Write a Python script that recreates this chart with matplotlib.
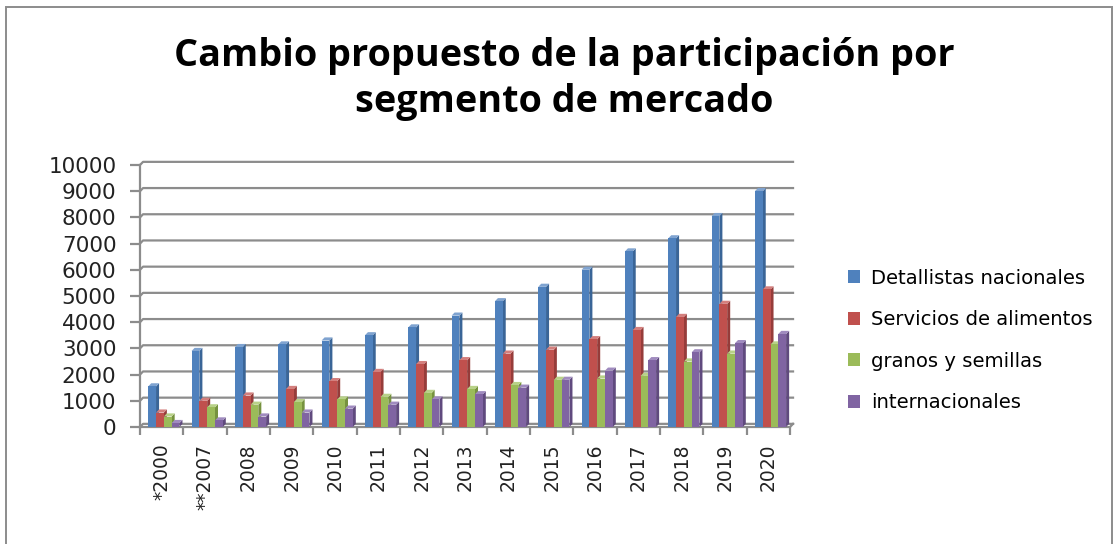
import matplotlib
matplotlib.use("Agg")
import matplotlib.pyplot as plt
from matplotlib.patches import Polygon, Rectangle

# --- datos ---
years = ["*2000", "**2007", "2008", "2009", "2010", "2011", "2012", "2013",
         "2014", "2015", "2016", "2017", "2018", "2019", "2020"]
detallistas = [1550, 2900, 3050, 3150, 3300, 3500, 3800, 4250, 4800, 5350, 6000, 6700, 7200, 8050, 9000]
servicios = [550, 1000, 1200, 1450, 1750, 2100, 2400, 2550, 2800, 2950, 3350, 3700, 4200, 4700, 5250]
granos = [400, 750, 850, 950, 1050, 1150, 1300, 1450, 1600, 1800, 1850, 1950, 2500, 2800, 3150]
internacionales = [150, 250, 400, 550, 700, 850, 1050, 1250, 1500, 1800, 2150, 2550, 2850, 3200, 3550]
series_names = ["Detallistas nacionales", "Servicios de alimentos",
                "granos y semillas", "internacionales"]
yticks = list(range(0, 10001, 1000))

front = ["#4F81BD", "#C0504D", "#9BBB59", "#8064A2"]
side = ["#3A6597", "#963C3A", "#76923F", "#604A7E"]
top = ["#7FA3D0", "#D47F7D", "#B8D188", "#A08BBF"]

fig = plt.figure(figsize=(11.18, 5.44), dpi=100)
ax = fig.add_axes([140 / 1118, 1 - 427 / 544, 650 / 1118, 262 / 544])

n = len(years)
bw = 0.18
dx, dy = 0.07, 120  # profundidad 3D (en unidades de datos)
grid_c = "#8C8C8C"

ax.set_xlim(-0.5, n - 0.5)
ax.set_ylim(0, 10000)

# lineas de la pared del fondo
for v in yticks:
    ax.plot([-0.5, -0.5 + dx, n - 0.5 + dx], [v, v + dy, v + dy],
            color=grid_c, lw=1.6, zorder=1, clip_on=False)
# suelo
ax.plot([-0.5, n - 0.5, n - 0.5 + dx], [0, 0, dy], color=grid_c, lw=1.6,
        zorder=1, clip_on=False)

all_series = [detallistas, servicios, granos, internacionales]
for k, vals in enumerate(all_series):
    off = (k - 1.5) * bw + 0.05
    for i, v in enumerate(vals):
        x0 = i + off - bw / 2
        x1 = i + off + bw / 2
        ax.add_patch(Polygon([(x1, 0), (x1 + dx, dy), (x1 + dx, v + dy), (x1, v)],
                             closed=True, fc=side[k], ec="none", zorder=3 + i))
        ax.add_patch(Polygon([(x0, v), (x0 + dx, v + dy), (x1 + dx, v + dy), (x1, v)],
                             closed=True, fc=top[k], ec="none", zorder=3 + i))
        ax.add_patch(Rectangle((x0, 0), bw, v, fc=front[k], ec="none", zorder=3 + i))

for s in ax.spines.values():
    s.set_visible(False)
ax.spines["left"].set_visible(True)
ax.spines["left"].set_color(grid_c)
ax.spines["left"].set_linewidth(1.6)

ax.set_yticks(yticks)
ax.set_yticklabels([str(v) for v in yticks], fontsize=15.5, color="#222222")
ax.tick_params(axis="y", length=7, width=1.6, color=grid_c, pad=10)

# marcas entre categorias
ax.set_xticks([i - 0.5 for i in range(n + 1)], minor=False)
ax.set_xticklabels([])
ax.tick_params(axis="x", length=6, width=1.6, color=grid_c, direction="out")
ax.set_xticks(range(n), minor=True)
ax.set_xticklabels(years, minor=True, rotation=90, fontsize=13.5, color="#222222")
ax.tick_params(axis="x", which="minor", length=0, pad=12)

fig.text(0.505, 0.897, "Cambio propuesto de la participación por", ha="center",
         va="center", fontsize=27.2, fontweight="bold", family="Open Sans")
fig.text(0.505, 0.813, "segmento de mercado", ha="center", va="center",
         fontsize=27.2, fontweight="bold", family="Open Sans")

handles = [Rectangle((0, 0), 1, 1, fc=c, ec="none") for c in front]
fig.legend(handles, series_names, loc="upper left", bbox_to_anchor=(830 / 1118, 1 - 251 / 544),
           frameon=False, fontsize=14.1, handlelength=0.65, handleheight=0.65,
           handletextpad=0.55, labelspacing=1.15)

# marco del grafico
fig.patches.append(Rectangle((5.5 / 1118, -0.05), 1106 / 1118, 1.05 - 6.5 / 544,
                             transform=fig.transFigure, fill=False, ec="#8C8C8C", lw=1.4))

fig.savefig("out.png", dpi=100)
